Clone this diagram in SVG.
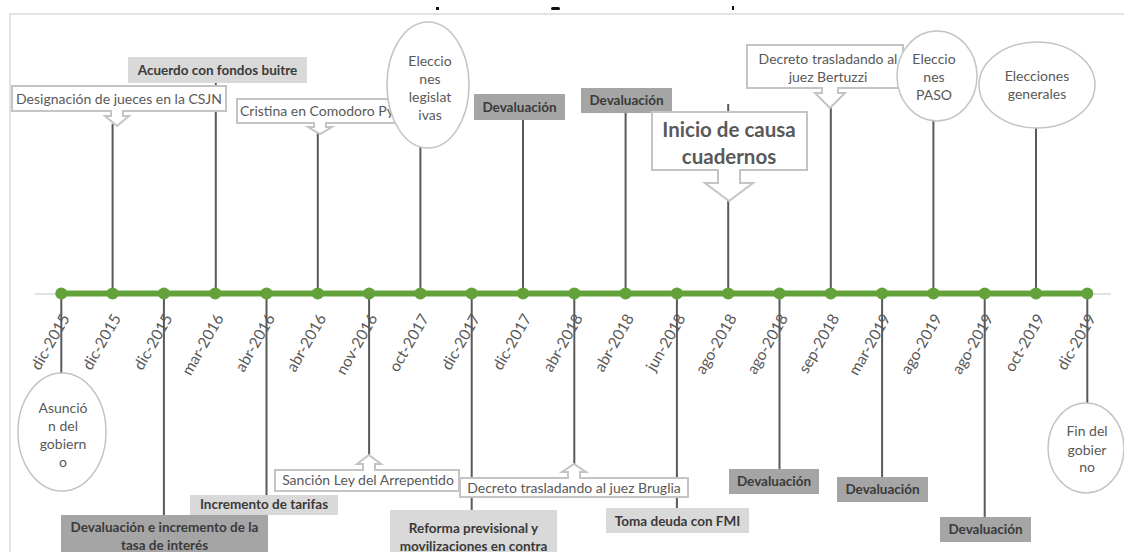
<svg xmlns="http://www.w3.org/2000/svg" width="1124" height="552" viewBox="0 0 1124 552">
<style>
text{font-family:Lato,"Liberation Sans",sans-serif}
.frame{fill:none;stroke:#e3e3e3;stroke-width:2}
.base{stroke:#d9d9d9;stroke-width:1.5}
.axis{stroke:#63a23a;stroke-width:6}
.dot{fill:#63a23a}
.date{font-size:15.5px;fill:#595959;text-anchor:end}
.conn line{stroke:#595959;stroke-width:2}
.call{fill:#fff;stroke:#c4c4c4;stroke-width:2}
.ell{fill:#fff;stroke:#c4c4c4;stroke-width:1.5}
.dark{fill:#a5a5a5}
.light{fill:#d9d9d9}
.t{font-size:14px;fill:#595959;text-anchor:middle}
.b{font-size:13.5px;font-weight:bold;fill:#3a3a3a;text-anchor:middle}
.big{font-size:20.5px;font-weight:bold;fill:#595959;text-anchor:middle}
</style>
<rect width="1124" height="552" fill="#fff"/>
<path class="frame" d="M10 552V14H1124"/>
<g fill="#111"><rect x="436" y="7" width="3" height="3"/><rect x="551" y="7" width="9" height="3" rx="1.5"/><rect x="732" y="6" width="2" height="4"/></g>
<line class="base" x1="35" y1="294" x2="1111" y2="294"/>
<g id="dates">
<text class="date" transform="translate(70.3,318) rotate(-60)">dic-2015</text>
<text class="date" transform="translate(121.6,318) rotate(-60)">dic-2015</text>
<text class="date" transform="translate(172.9,318) rotate(-60)">dic-2015</text>
<text class="date" transform="translate(224.2,318) rotate(-60)">mar-2016</text>
<text class="date" transform="translate(275.5,318) rotate(-60)">abr-2016</text>
<text class="date" transform="translate(326.8,318) rotate(-60)">abr-2016</text>
<text class="date" transform="translate(378.1,318) rotate(-60)">nov-2016</text>
<text class="date" transform="translate(429.4,318) rotate(-60)">oct-2017</text>
<text class="date" transform="translate(480.7,318) rotate(-60)">dic-2017</text>
<text class="date" transform="translate(532,318) rotate(-60)">dic-2017</text>
<text class="date" transform="translate(583.3,318) rotate(-60)">abr-2018</text>
<text class="date" transform="translate(634.6,318) rotate(-60)">abr-2018</text>
<text class="date" transform="translate(685.9,318) rotate(-60)">jun-2018</text>
<text class="date" transform="translate(737.2,318) rotate(-60)">ago-2018</text>
<text class="date" transform="translate(788.5,318) rotate(-60)">ago-2018</text>
<text class="date" transform="translate(839.8,318) rotate(-60)">sep-2018</text>
<text class="date" transform="translate(891.1,318) rotate(-60)">mar-2019</text>
<text class="date" transform="translate(942.4,318) rotate(-60)">ago-2019</text>
<text class="date" transform="translate(993.7,318) rotate(-60)">ago-2019</text>
<text class="date" transform="translate(1045,318) rotate(-60)">oct-2019</text>
<text class="date" transform="translate(1096.3,318) rotate(-60)">dic-2019</text>
</g>
<g id="connectors" class="conn">
<line x1="61.3" y1="293" x2="61.3" y2="373"/>
<line x1="112.6" y1="124" x2="112.6" y2="293"/>
<line x1="163.9" y1="293" x2="163.9" y2="515"/>
<line x1="215.8" y1="83" x2="215.8" y2="293"/>
<line x1="266.5" y1="293" x2="266.5" y2="495"/>
<line x1="317.8" y1="132" x2="317.8" y2="293"/>
<line x1="369.1" y1="293" x2="369.1" y2="456"/>
<line x1="420.4" y1="146" x2="420.4" y2="293"/>
<line x1="471.7" y1="293" x2="471.7" y2="510"/>
<line x1="523" y1="120" x2="523" y2="293"/>
<line x1="574.3" y1="293" x2="574.3" y2="465"/>
<line x1="625.6" y1="113" x2="625.6" y2="293"/>
<line x1="676.9" y1="293" x2="676.9" y2="508"/>
<line x1="728.2" y1="104" x2="728.2" y2="293"/>
<line x1="779.5" y1="293" x2="779.5" y2="469"/>
<line x1="830.8" y1="108" x2="830.8" y2="293"/>
<line x1="882.1" y1="293" x2="882.1" y2="477"/>
<line x1="933.4" y1="120" x2="933.4" y2="293"/>
<line x1="984.7" y1="293" x2="984.7" y2="517"/>
<line x1="1036" y1="127" x2="1036" y2="293"/>
<line x1="1087.3" y1="293" x2="1087.3" y2="403"/>
</g>
<g id="axis">
<line class="axis" x1="61.3" y1="293.5" x2="1087.3" y2="293.5"/>
<g class="dot">
<circle cx="61.3" cy="293.5" r="6"/><circle cx="112.6" cy="293.5" r="6"/><circle cx="163.9" cy="293.5" r="6"/><circle cx="215.2" cy="293.5" r="6"/><circle cx="266.5" cy="293.5" r="6"/><circle cx="317.8" cy="293.5" r="6"/><circle cx="369.1" cy="293.5" r="6"/><circle cx="420.4" cy="293.5" r="6"/><circle cx="471.7" cy="293.5" r="6"/><circle cx="523" cy="293.5" r="6"/><circle cx="574.3" cy="293.5" r="6"/><circle cx="625.6" cy="293.5" r="6"/><circle cx="676.9" cy="293.5" r="6"/><circle cx="728.2" cy="293.5" r="6"/><circle cx="779.5" cy="293.5" r="6"/><circle cx="830.8" cy="293.5" r="6"/><circle cx="882.1" cy="293.5" r="6"/><circle cx="933.4" cy="293.5" r="6"/><circle cx="984.7" cy="293.5" r="6"/><circle cx="1036" cy="293.5" r="6"/><circle cx="1087.3" cy="293.5" r="6"/>
</g>
</g>
<g id="n-asuncion">
<ellipse class="ell" cx="62" cy="432" rx="44" ry="59"/>
<text class="t" x="63" y="413">Asunció</text><text class="t" x="63" y="431">n del</text><text class="t" x="63" y="449">gobiern</text><text class="t" x="63" y="467">o</text>
</g>
<g id="n-designacion">
<path class="call" d="M12 86H226V111H123V116H129L117 126L105 116H111V111H12Z"/>
<text class="t" x="119" y="104">Designación de jueces en la CSJN</text>
</g>
<g id="n-devaluacion-tasa">
<rect class="dark" x="61" y="515" width="207" height="45"/>
<text class="b" x="164.5" y="532">Devaluación e incremento de la</text>
<text class="b" x="164.5" y="550">tasa de interés</text>
</g>
<g id="n-acuerdo">
<rect class="light" x="128" y="57" width="179" height="26"/>
<text class="b" x="217.5" y="75">Acuerdo con fondos buitre</text>
</g>
<g id="n-tarifas">
<rect class="light" x="190" y="495" width="148" height="20"/>
<text class="b" x="264" y="509">Incremento de tarifas</text>
</g>
<g id="n-cristina">
<path class="call" d="M237 99H399V123H326V127H332L320 134L308 127H314V123H237Z"/>
<text class="t" x="317" y="116">Cristina en Comodoro Py</text>
</g>
<g id="n-sancion">
<path class="call" d="M275 470H363V464H357L369 455L381 464H375V470H459V491H275Z"/>
<text class="t" x="368" y="485">Sanción Ley del Arrepentido</text>
</g>
<g id="n-legislativas">
<ellipse class="ell" cx="428" cy="85" rx="41" ry="63"/>
<text class="t" x="430" y="66">Eleccio</text><text class="t" x="430" y="84">nes</text><text class="t" x="430" y="102">legislat</text><text class="t" x="430" y="120">ivas</text>
</g>
<g id="n-reforma">
<rect class="light" x="390" y="510" width="167" height="50"/>
<text class="b" x="473.5" y="533">Reforma previsional y</text>
<text class="b" x="473.5" y="551">movilizaciones en contra</text>
</g>
<g id="n-dev-2017">
<rect class="dark" x="474" y="94" width="91" height="26"/>
<text class="b" x="519.5" y="112">Devaluación</text>
</g>
<g id="n-bruglia">
<path class="call" d="M460 478H568V472H562L574 464L586 472H580V478H688V497H460Z"/>
<text class="t" x="574" y="493">Decreto trasladando al juez Bruglia</text>
</g>
<g id="n-dev-abr2018">
<rect class="dark" x="581" y="88" width="91" height="25"/>
<text class="b" x="626.5" y="105">Devaluación</text>
</g>
<g id="n-fmi">
<rect class="light" x="606" y="508" width="143" height="25"/>
<text class="b" x="677.5" y="526">Toma deuda con FMI</text>
</g>
<g id="n-cuadernos">
<path class="call" d="M652 112H807V170H740V183H753L729 201L705 183H718V170H652Z" stroke-width="3" stroke="#d0d0d0"/>
<text class="big" x="729" y="137">Inicio de causa</text>
<text class="big" x="729" y="164">cuadernos</text>
</g>
<g id="n-dev-ago2018">
<rect class="dark" x="729" y="469" width="90" height="25"/>
<text class="b" x="774" y="486">Devaluación</text>
</g>
<g id="n-bertuzzi">
<path class="call" d="M747 45H903V88H838V93H845L830 108L815 93H822V88H747Z"/>
<text class="t" x="828" y="64">Decreto trasladando al</text>
<text class="t" x="828" y="82">juez Bertuzzi</text>
</g>
<g id="n-dev-mar2019">
<rect class="dark" x="837" y="477" width="91" height="25"/>
<text class="b" x="882.5" y="494">Devaluación</text>
</g>
<g id="n-paso">
<ellipse class="ell" cx="937" cy="76" rx="40" ry="45"/>
<text class="t" x="934" y="64">Eleccio</text><text class="t" x="934" y="82">nes</text><text class="t" x="934" y="100">PASO</text>
</g>
<g id="n-dev-ago2019">
<rect class="dark" x="940" y="517" width="91" height="25"/>
<text class="b" x="985.5" y="534">Devaluación</text>
</g>
<g id="n-generales">
<ellipse class="ell" cx="1037" cy="85" rx="58" ry="43"/>
<text class="t" x="1037" y="81">Elecciones</text><text class="t" x="1037" y="99">generales</text>
</g>
<g id="n-fin">
<ellipse class="ell" cx="1086" cy="448" rx="38" ry="45"/>
<text class="t" x="1087" y="436">Fin del</text><text class="t" x="1087" y="455">gobier</text><text class="t" x="1087" y="472">no</text>
</g>
</svg>
